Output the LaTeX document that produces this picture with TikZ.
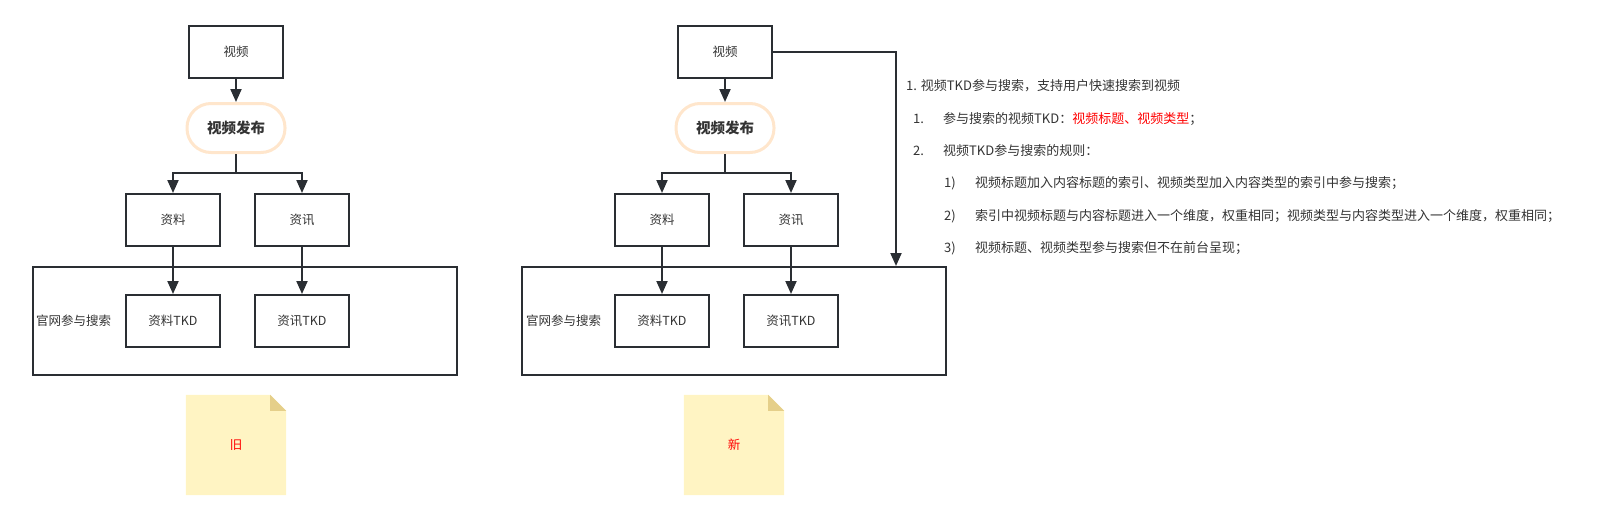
\documentclass[tikz,border=0pt]{standalone}
\usepackage{fontspec}
\setmainfont{Noto Sans CJK SC}
\usetikzlibrary{arrows.meta,backgrounds}
\definecolor{linegray}{HTML}{2A2E33}
\definecolor{txtgray}{HTML}{333333}
\definecolor{publine}{HTML}{FFE6CC}
\definecolor{notefill}{HTML}{FFF4C3}
\definecolor{notefold}{HTML}{E5CF8A}
\tikzset{
	boxnode/.style={draw=linegray, line width=2pt, minimum width=94pt, minimum height=52pt, inner sep=0, text=txtgray, font=\fontsize{12.5}{15}\selectfont},
	pubnode/.style={draw=publine, line width=3pt, fill=white, rounded corners=24pt, minimum width=98pt, minimum height=49pt, text=txtgray, font=\fontsize{14.5}{17}\selectfont\bfseries},
	groupbox/.style={draw=linegray, line width=2pt, minimum width=424pt, minimum height=108pt, inner sep=0},
	grouplabel/.style={anchor=west, inner sep=0, text=txtgray, font=\fontsize{12.5}{15}\selectfont},
	arr/.style={draw=linegray, line width=2pt, -{Triangle[length=13pt,width=11pt]}},
	notenode/.style={minimum width=100pt, minimum height=100pt, inner sep=0, text=red, font=\fontsize{12.5}{15}\selectfont},
	txtline/.style={anchor=west, inner sep=0, text=txtgray, font=\fontsize{13}{16}\selectfont},
}
\newcommand{\notebg}[1]{%
	\fill[notefill] (#1.north west) -- ([xshift=-16pt]#1.north east) -- ([yshift=-16pt]#1.north east) -- (#1.south east) -- (#1.south west) -- cycle;
	\fill[notefold] ([xshift=-16pt]#1.north east) -- ([xshift=-16pt,yshift=-16pt]#1.north east) -- ([yshift=-16pt]#1.north east) -- cycle;
}
\begin{document}
\begin{tikzpicture}[x=1pt,y=-1pt]
	\useasboundingbox (0,0) rectangle (1604,520);

	% old
	\node[groupbox] (grp1) at (245,321) {};
	\node[grouplabel] (lab1) at (36,321) {官网参与搜索};
	\node[boxnode] (sp1) at (236,52) {视频};
	\node[pubnode] (pub1) at (236,128) {视频发布};
	\node[boxnode] (zl1) at (173,220) {资料};
	\node[boxnode] (zx1) at (302,220) {资讯};
	\node[boxnode] (zlk1) at (173,321) {资料TKD};
	\node[boxnode] (zxk1) at (302,321) {资讯TKD};
	\node[notenode] (note1) at (236,445) {旧};
	\begin{scope}[on background layer]
		\notebg{note1}
	\end{scope}
	\draw[arr] (sp1) -- (pub1);
	\draw[arr] (pub1.south) -- ++(0,19) -| (zl1.north);
	\draw[arr] (pub1.south) -- ++(0,19) -| (zx1.north);
	\draw[arr] (zl1) -- (zlk1);
	\draw[arr] (zx1) -- (zxk1);

	% new
	\node[groupbox] (grp2) at (734,321) {};
	\node[grouplabel] (lab2) at (526,321) {官网参与搜索};
	\node[boxnode] (sp2) at (725,52) {视频};
	\node[pubnode] (pub2) at (725,128) {视频发布};
	\node[boxnode] (zl2) at (662,220) {资料};
	\node[boxnode] (zx2) at (791,220) {资讯};
	\node[boxnode] (zlk2) at (662,321) {资料TKD};
	\node[boxnode] (zxk2) at (791,321) {资讯TKD};
	\node[notenode] (note2) at (734,445) {新};
	\begin{scope}[on background layer]
		\notebg{note2}
	\end{scope}
	\coordinate (hit2) at ([xshift=-51pt]grp2.north east);
	\draw[arr] (sp2) -- (pub2);
	\draw[arr] (pub2.south) -- ++(0,19) -| (zl2.north);
	\draw[arr] (pub2.south) -- ++(0,19) -| (zx2.north);
	\draw[arr] (zl2) -- (zlk2);
	\draw[arr] (zx2) -- (zxk2);
	\draw[arr] (sp2.east) -| (hit2);

	% rules
	\node[txtline] (t0) at (906,86) {1. 视频TKD参与搜索，支持用户快速搜索到视频};
	\node[txtline] (n1) at (913,119) {1.};
	\node[txtline] (t1) at (943,119) {参与搜索的视频TKD：\textcolor{red}{视频标题、视频类型}；};
	\node[txtline] (n2) at (913,151) {2.};
	\node[txtline] (t2) at (943,151) {视频TKD参与搜索的规则：};
	\node[txtline] (m1) at (944,183) {1)};
	\node[txtline] (s1) at (975,183) {视频标题加入内容标题的索引、视频类型加入内容类型的索引中参与搜索；};
	\node[txtline] (m2) at (944,216) {2)};
	\node[txtline] (s2) at (975,216) {索引中视频标题与内容标题进入一个维度，权重相同；视频类型与内容类型进入一个维度，权重相同；};
	\node[txtline] (m3) at (944,248) {3)};
	\node[txtline] (s3) at (975,248) {视频标题、视频类型参与搜索但不在前台呈现；};
\end{tikzpicture}
\end{document}
